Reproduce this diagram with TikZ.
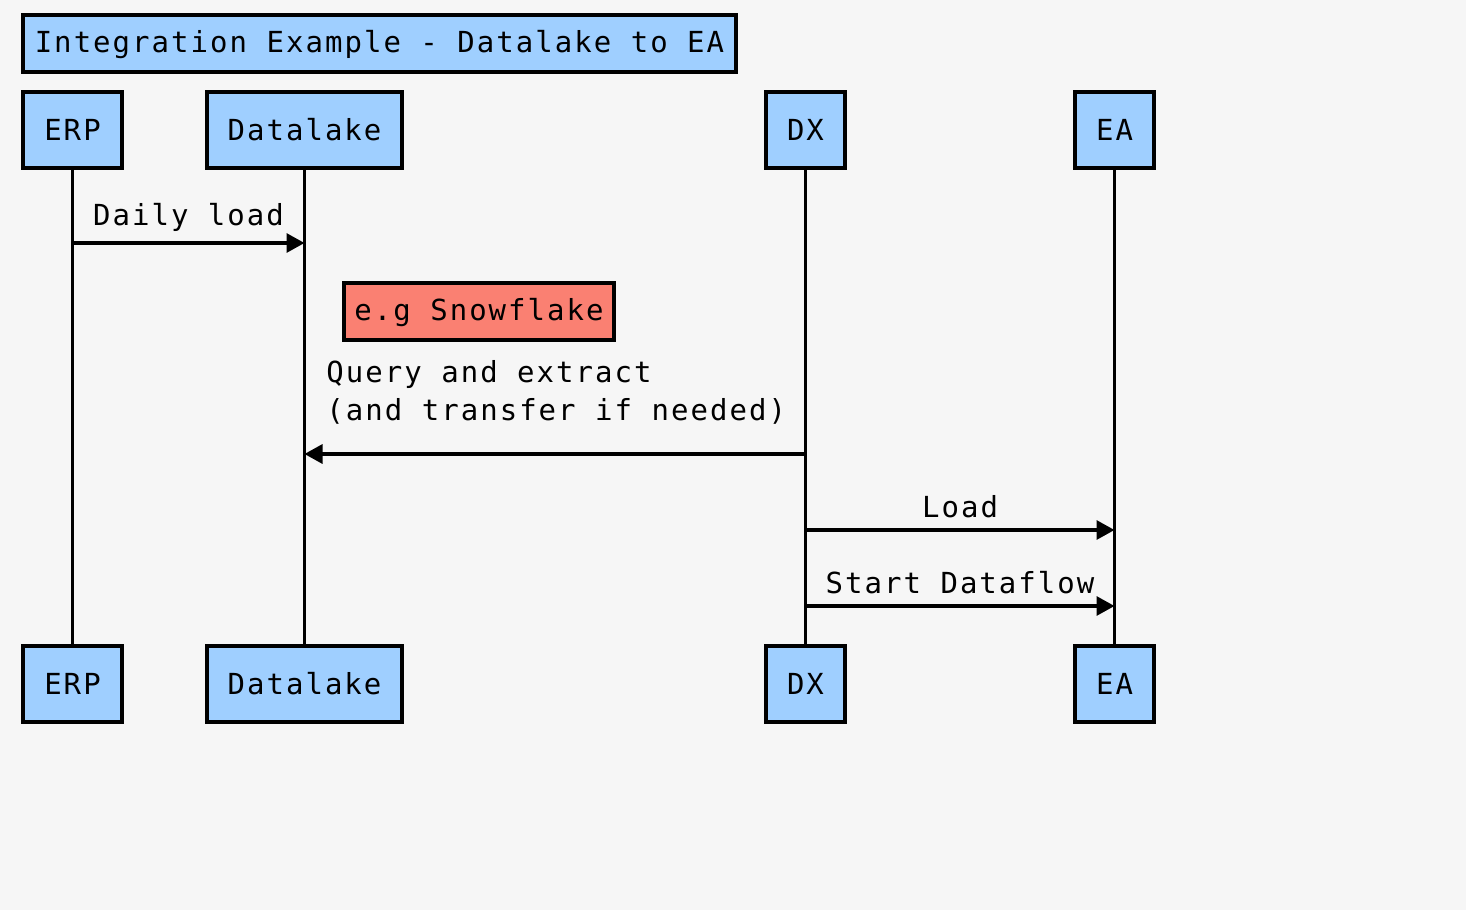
\documentclass[tikz,border=0pt]{standalone}
\usepackage{fontspec}
\usepackage{tikz}
\usetikzlibrary{arrows.meta}
\newfontfamily\seqfont{DejaVu Sans Mono}[LetterSpace=7]
\definecolor{bgcol}{HTML}{F6F6F6}
\definecolor{actorcol}{HTML}{9FCFFF}
\definecolor{notecol}{HTML}{FA8072}

\begin{document}
\begin{tikzpicture}[x=0.5pt,y=-0.5pt,
    every node/.style={font=\seqfont\fontsize{14.5}{19}\selectfont, inner sep=0pt},
    actor/.style={draw=black, line width=1.75pt, fill=actorcol, minimum height=38pt},
    note/.style={draw=black, line width=1.75pt, fill=notecol, minimum height=28.5pt, minimum width=135pt},
    life/.style={line width=1.6pt},
    msg/.style={line width=1.6pt, -{Triangle[length=9pt,width=9.5pt]}}]
    \fill [bgcol] (0,0) rectangle (1466,910);
    \useasboundingbox (0,0) rectangle (1466,910);
    % title
    \node [actor, minimum width=356.5pt, minimum height=28.5pt, text depth=2pt] (title) at (379.5,43.5) {Integration Example - Datalake to EA};
    % participants, top and bottom
    \node [actor, minimum width=49.5pt] (erpT) at (72.5,130) {ERP};
    \node [actor, minimum width=97.5pt] (lakeT) at (304.5,130) {Datalake};
    \node [actor, minimum width=39.5pt] (dxT) at (805.5,130) {DX};
    \node [actor, minimum width=39.5pt] (eaT) at (1114.5,130) {EA};
    \node [actor, minimum width=49.5pt] (erpB) at (72.5,684) {ERP};
    \node [actor, minimum width=97.5pt] (lakeB) at (304.5,684) {Datalake};
    \node [actor, minimum width=39.5pt] (dxB) at (805.5,684) {DX};
    \node [actor, minimum width=39.5pt] (eaB) at (1114.5,684) {EA};
    % lifelines
    \draw [life] (erpT) -- (erpB);
    \draw [life] (lakeT) -- (lakeB);
    \draw [life] (dxT) -- (dxB);
    \draw [life] (eaT) -- (eaB);
    % messages
    \coordinate (dailyS) at (72.5,243);
    \coordinate (dailyE) at (304.5,243);
    \draw [msg] (dailyS) -- node [above=5pt] (dailyL) {Daily load} (dailyE);
    \node [note, text depth=2pt] (snow) at (479,311.5) {e.g Snowflake};
    \node [anchor=west, align=left] (queryL) at (326,392) {Query and extract\\(and transfer if needed)};
    \coordinate (queryS) at (805.5,454);
    \coordinate (queryE) at (304.5,454);
    \draw [msg] (queryS) -- (queryE);
    \coordinate (loadS) at (805.5,530);
    \coordinate (loadE) at (1114.5,530);
    \draw [msg] (loadS) -- node [above=5pt] (loadL) {Load} (loadE);
    \coordinate (startS) at (805.5,606);
    \coordinate (startE) at (1114.5,606);
    \draw [msg] (startS) -- node [above=5pt] (startL) {Start Dataflow} (startE);
\end{tikzpicture}
\end{document}
